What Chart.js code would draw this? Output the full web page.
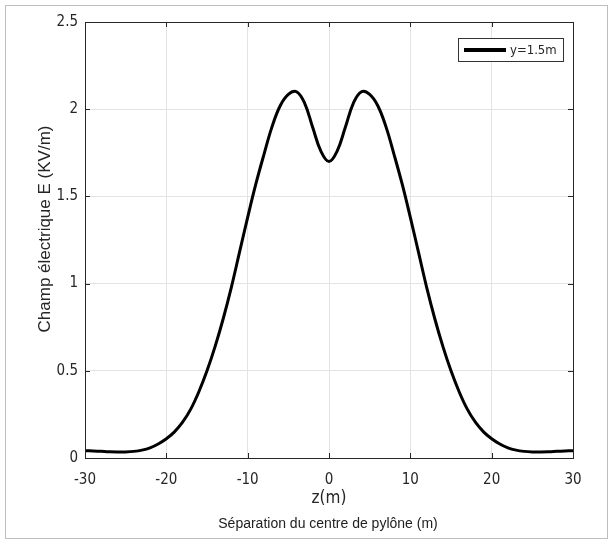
<!DOCTYPE html>
<html>
<head>
<meta charset="utf-8">
<script src="https://cdn.jsdelivr.net/npm/chart.js@4.4.1/dist/chart.umd.min.js"></script>
<style>
  html, body { margin: 0; padding: 0; background: #fff; }
  #wrap { position: relative; width: 614px; height: 547px; }
  #cadre { position: absolute; left: 5px; top: 5px; width: 601px; height: 532px; border: 1px solid #bdbdbd; }
  #graph { position: absolute; left: 0; top: 0; }
  #legende { position: absolute; left: 0; width: 656px; top: 515px; text-align: center; font-family: 'Liberation Sans', Arial, sans-serif; font-size: 14px; line-height: 17px; color: #222; }
</style>
</head>
<body>
<div id="wrap">
  <div id="cadre"></div>
  <canvas id="graph" width="614" height="547"></canvas>
  <div id="legende">Séparation du centre de pylône (m)</div>
</div>
<script>
// Données
const serieNom = 'y=1.5m';
const titreY = 'Champ électrique E (KV/m)';
const zPos = [-30, -29, -28, -27, -26, -25, -24, -23, -22, -21, -20, -19, -18, -17, -16, -15, -14, -13, -12, -11, -10,
              -9, -8, -7, -6, -5, -4, -3, -2, -1, 0, 1, 2, 3, 4, 5, 6, 7, 8, 9,
              10, 11, 12, 13, 14, 15, 16, 17, 18, 19, 20, 21, 22, 23, 24, 25, 26, 27, 28, 29, 30];
const champE = [0.042, 0.040, 0.038, 0.036, 0.035, 0.035, 0.038, 0.045, 0.058, 0.08, 0.11, 0.15, 0.205, 0.28, 0.38, 0.50, 0.64, 0.80, 0.98, 1.18, 1.38,
                1.57, 1.74, 1.90, 2.02, 2.085, 2.10, 2.035, 1.895, 1.76, 1.70, 1.76, 1.895, 2.035, 2.10, 2.085, 2.02, 1.90, 1.74, 1.57,
                1.38, 1.18, 0.98, 0.80, 0.64, 0.50, 0.38, 0.28, 0.205, 0.15, 0.11, 0.08, 0.058, 0.045, 0.038, 0.035, 0.035, 0.036, 0.038, 0.040, 0.042];
const xTicks = [-30, -20, -10, 0, 10, 20, 30];
const yTicks = [0, 0.5, 1, 1.5, 2, 2.5];

const policeTicks = "'Liberation Sans Narrow', 'DejaVu Sans Condensed', sans-serif";
const policeTitre = "'Liberation Sans', Arial, sans-serif";

// Cadre du tracé, ticks vers l'intérieur, titre Y et légende dans le coin (style MATLAB)
const cadrePlugin = {
  id: 'cadre',
  afterDatasetsDraw(chart) {
    const {ctx, chartArea: a, scales} = chart;
    ctx.save();
    ctx.strokeStyle = '#262626';
    ctx.lineWidth = 1;
    ctx.strokeRect(Math.round(a.left) + 0.5, Math.round(a.top) + 0.5, Math.round(a.width), Math.round(a.height));
    ctx.beginPath();
    xTicks.forEach(v => {
      const px = Math.round(scales.x.getPixelForValue(v)) + 0.5;
      ctx.moveTo(px, a.top); ctx.lineTo(px, a.top + 5);
      ctx.moveTo(px, a.bottom); ctx.lineTo(px, a.bottom - 5);
    });
    yTicks.forEach(v => {
      const py = Math.round(scales.y.getPixelForValue(v)) + 0.5;
      ctx.moveTo(a.left, py); ctx.lineTo(a.left + 5, py);
      ctx.moveTo(a.right, py); ctx.lineTo(a.right - 5, py);
    });
    ctx.stroke();

    // titre de l'axe Y
    ctx.save();
    ctx.translate(45, 229);
    ctx.rotate(-Math.PI / 2);
    ctx.fillStyle = '#262626';
    ctx.font = '17px ' + policeTitre;
    ctx.textAlign = 'center';
    ctx.textBaseline = 'middle';
    ctx.fillText(titreY, 0, 0);
    ctx.restore();

    // légende
    const lx = 458, ly = 38, lw = 105, lh = 23;
    ctx.fillStyle = '#fff';
    ctx.fillRect(lx, ly, lw, lh);
    ctx.strokeStyle = '#333';
    ctx.lineWidth = 1;
    ctx.strokeRect(lx + 0.5, ly + 0.5, lw, lh);
    ctx.strokeStyle = '#000';
    ctx.lineWidth = 4;
    ctx.beginPath();
    ctx.moveTo(lx + 6, ly + 12);
    ctx.lineTo(lx + 48, ly + 12);
    ctx.stroke();
    ctx.fillStyle = '#262626';
    ctx.font = '13px ' + policeTicks;
    ctx.textBaseline = 'middle';
    ctx.fillText(serieNom, lx + 52, ly + 12.5);
    ctx.restore();
  }
};

const ctx = document.getElementById('graph').getContext('2d');
new Chart(ctx, {
  type: 'line',
  data: {
    datasets: [{
      label: serieNom,
      data: zPos.map((z, i) => ({x: z, y: champE[i]})),
      borderColor: '#000',
      borderWidth: 3,
      pointRadius: 0,
      fill: false,
      tension: 0.4
    }]
  },
  options: {
    responsive: false,
    animation: false,
    layout: { padding: { left: 0, right: 41, top: 22, bottom: 0 } },
    plugins: {
      legend: { display: false },
      tooltip: { enabled: false }
    },
    scales: {
      x: {
        type: 'linear',
        min: -30, max: 30,
        afterBuildTicks: s => { s.ticks = xTicks.map(v => ({value: v})); },
        afterFit: s => { s.height = 89; },
        grid: { color: '#e3e3e3', drawTicks: false },
        border: { display: false },
        ticks: { padding: 13, color: '#262626', font: { family: policeTicks, size: 15 }, callback: v => String(v) },
        title: { display: true, text: 'z(m)', color: '#262626', font: { family: policeTicks, size: 17 }, padding: { top: 0, bottom: 38 } }
      },
      y: {
        min: 0, max: 2.5,
        afterBuildTicks: s => { s.ticks = yTicks.map(v => ({value: v})); },
        afterFit: s => { s.width = 85; },
        grid: { color: '#e3e3e3', drawTicks: false },
        border: { display: false },
        ticks: { padding: 7, color: '#262626', font: { family: policeTicks, size: 15 }, callback: v => String(v) },
        title: { display: false }
      }
    }
  },
  plugins: [cadrePlugin]
});
</script>
</body>
</html>
